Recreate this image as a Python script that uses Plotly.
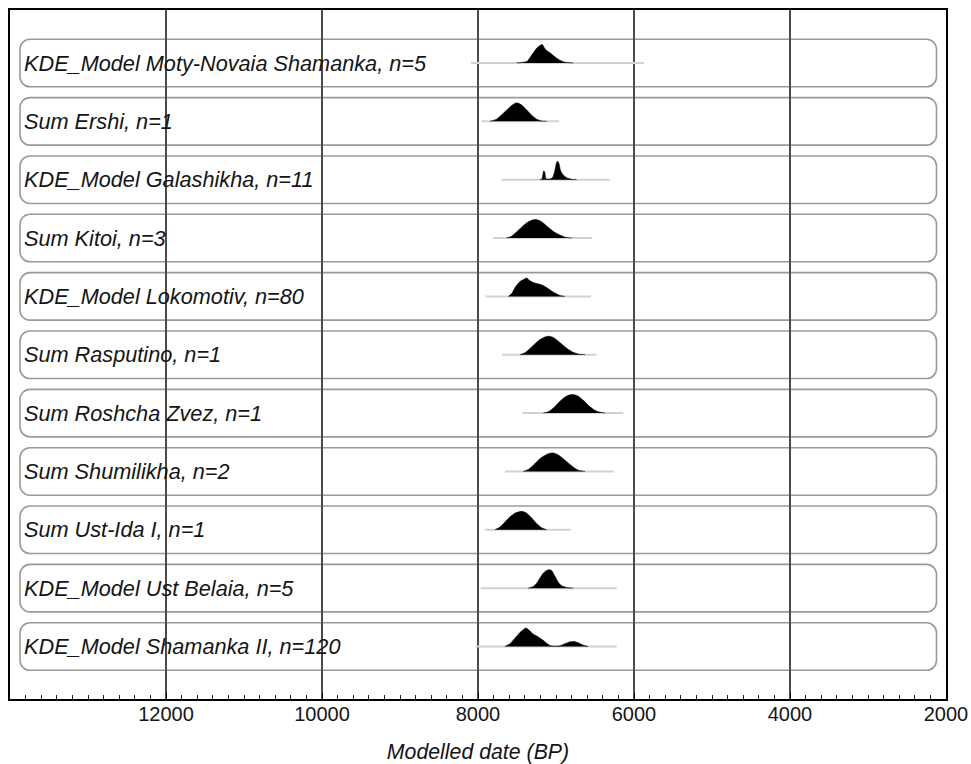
import plotly.graph_objects as go

# ---------------- data ----------------
labels = [
    "KDE_Model Moty-Novaia Shamanka, n=5",
    "Sum Ershi, n=1",
    "KDE_Model Galashikha, n=11",
    "Sum Kitoi, n=3",
    "KDE_Model Lokomotiv, n=80",
    "Sum Rasputino, n=1",
    "Sum Roshcha Zvez, n=1",
    "Sum Shumilikha, n=2",
    "Sum Ust-Ida I, n=1",
    "KDE_Model Ust Belaia, n=5",
    "KDE_Model Shamanka II, n=120",
]

# overall range (light grey line) for each row, years BP
range_start = [8090, 7953, 7697, 7804, 7902, 7692, 7427, 7654, 7910, 7966, 8026]
range_end   = [5872, 6962, 6308, 6534, 6551, 6479, 6137, 6257, 6812, 6222, 6222]

# probability distributions: years BP and relative density (peak = 1)
moty_years = [7504, 7419, 7368, 7333, 7291, 7248, 7205, 7175, 7154, 7128, 7077, 7013, 6949, 6885, 6778]
moty_dens  = [0.0, 0.04, 0.10, 0.30, 0.55, 0.80, 0.95, 1.00, 0.85, 0.70, 0.55, 0.33, 0.15, 0.04, 0.0]

ershi_years = [7846, 7761, 7697, 7632, 7568, 7504, 7440, 7376, 7312, 7248, 7184, 7120]
ershi_dens  = [0.0, 0.12, 0.35, 0.61, 0.86, 1.00, 0.88, 0.61, 0.33, 0.12, 0.02, 0.0]

gala_years = [7205, 7184, 7171, 7158, 7145, 7133, 7120, 7077, 7047, 7026, 7009, 6992, 6979, 6962, 6940, 6906, 6863, 6799, 6735]
gala_dens  = [0.0, 0.02, 0.19, 0.47, 0.42, 0.10, 0.04, 0.04, 0.10, 0.30, 0.60, 0.94, 1.00, 0.88, 0.47, 0.25, 0.10, 0.02, 0.0]

kitoi_years = [7632, 7568, 7504, 7440, 7376, 7312, 7257, 7205, 7141, 7077, 7013, 6949, 6885, 6799]
kitoi_dens  = [0.0, 0.10, 0.34, 0.59, 0.82, 0.96, 1.00, 0.93, 0.73, 0.50, 0.30, 0.16, 0.05, 0.0]

loko_years = [7611, 7568, 7526, 7462, 7410, 7376, 7342, 7291, 7205, 7141, 7077, 7013, 6949, 6885]
loko_dens  = [0.0, 0.15, 0.47, 0.80, 0.93, 1.00, 0.87, 0.75, 0.65, 0.53, 0.35, 0.18, 0.05, 0.0]

rasp_years = [7462, 7398, 7333, 7269, 7205, 7141, 7086, 7034, 6970, 6906, 6842, 6778, 6714, 6628]
rasp_dens  = [0.0, 0.11, 0.34, 0.59, 0.82, 0.96, 1.00, 0.93, 0.73, 0.50, 0.29, 0.13, 0.04, 0.0]

rosh_years = [7162, 7098, 7034, 6970, 6906, 6842, 6778, 6714, 6650, 6585, 6521, 6457, 6372]
rosh_dens  = [0.0, 0.07, 0.27, 0.55, 0.80, 0.96, 1.00, 0.91, 0.69, 0.42, 0.20, 0.07, 0.0]

shum_years = [7419, 7355, 7291, 7227, 7162, 7098, 7034, 6970, 6906, 6842, 6778, 6714, 6628]
shum_dens  = [0.0, 0.11, 0.34, 0.61, 0.82, 0.96, 1.00, 0.89, 0.68, 0.45, 0.23, 0.07, 0.0]

ustida_years = [7782, 7718, 7654, 7590, 7526, 7440, 7376, 7312, 7248, 7184, 7120]
ustida_dens  = [0.0, 0.15, 0.42, 0.70, 0.90, 1.00, 0.90, 0.64, 0.34, 0.11, 0.0]

belaia_years = [7355, 7291, 7248, 7205, 7162, 7120, 7086, 7056, 7013, 6970, 6927, 6863, 6778]
belaia_dens  = [0.0, 0.09, 0.27, 0.55, 0.82, 0.96, 1.00, 0.95, 0.64, 0.31, 0.13, 0.04, 0.0]

sham2_years = [7654, 7590, 7526, 7462, 7419, 7385, 7342, 7291, 7227, 7162, 7120, 7077, 7013, 6949, 6885, 6822, 6765, 6714, 6650, 6586]
sham2_dens  = [0.0, 0.15, 0.45, 0.76, 0.91, 1.00, 0.87, 0.67, 0.51, 0.33, 0.18, 0.05, 0.02, 0.04, 0.15, 0.25, 0.27, 0.20, 0.07, 0.0]

dist_years = [moty_years, ershi_years, gala_years, kitoi_years, loko_years, rasp_years,
              rosh_years, shum_years, ustida_years, belaia_years, sham2_years]
dist_dens = [moty_dens, ershi_dens, gala_dens, kitoi_dens, loko_dens, rasp_dens,
             rosh_dens, shum_dens, ustida_dens, belaia_dens, sham2_dens]

x_ticks = [12000, 10000, 8000, 6000, 4000, 2000]

# ---------------- layout constants ----------------
W, H = 971, 764
ML, MR, MT, MB = 10, 25, 10, 65
plot_w = W - ML - MR
plot_h = H - MT - MB
row_px = 58.35
y_top = -(63.0 - MT) / row_px
y_bot = y_top + plot_h / row_px
peak_h = 18.5 / row_px          # peak height in row units
box_half = 23.75 / row_px       # half height of rounded box
box_x0 = (20 - ML) / plot_w
box_x1 = (936.5 - ML) / plot_w
rx = 10 / plot_w
ry = 10 / row_px
k = 0.55
FONT = "Liberation Sans, Arial, Helvetica, sans-serif"

fig = go.Figure()

shapes = []
for i in range(len(labels)):
    y0 = i - box_half
    y1 = i + box_half
    path = (
        f"M {box_x0 + rx},{y0} L {box_x1 - rx},{y0} "
        f"C {box_x1 - rx * (1 - k)},{y0} {box_x1},{y0 + ry * (1 - k)} {box_x1},{y0 + ry} "
        f"L {box_x1},{y1 - ry} "
        f"C {box_x1},{y1 - ry * (1 - k)} {box_x1 - rx * (1 - k)},{y1} {box_x1 - rx},{y1} "
        f"L {box_x0 + rx},{y1} "
        f"C {box_x0 + rx * (1 - k)},{y1} {box_x0},{y1 - ry * (1 - k)} {box_x0},{y1 - ry} "
        f"L {box_x0},{y0 + ry} "
        f"C {box_x0},{y0 + ry * (1 - k)} {box_x0 + rx * (1 - k)},{y0} {box_x0 + rx},{y0} Z"
    )
    shapes.append(dict(type="path", path=path, xref="paper", yref="y",
                       line=dict(color="#9a9a9a", width=1.6), fillcolor="rgba(0,0,0,0)",
                       layer="below"))

for i in range(len(labels)):
    # range line
    fig.add_trace(go.Scatter(
        x=[range_start[i], range_end[i]], y=[i, i], mode="lines",
        line=dict(color="#d2d2d2", width=2), hoverinfo="skip", showlegend=False))
    # distribution
    ys = [i - d * peak_h for d in dist_dens[i]]
    fig.add_trace(go.Scatter(
        x=dist_years[i], y=ys, mode="lines", fill="toself",
        fillcolor="black", line=dict(color="black", width=0.6, shape="spline", smoothing=0.6),
        hoverinfo="skip", showlegend=False))

annotations = []
for i, lab in enumerate(labels):
    annotations.append(dict(
        x=(22 - ML) / plot_w, y=i, xref="paper", yref="y", text=lab,
        showarrow=False, xanchor="left", yanchor="middle",
        font=dict(family=FONT, size=21.7, color="#151515", style="italic")))

fig.update_layout(
    width=W, height=H,
    margin=dict(l=ML, r=MR, t=MT, b=MB, autoexpand=False),
    paper_bgcolor="white", plot_bgcolor="white",
    shapes=shapes, annotations=annotations,
    showlegend=False,
    xaxis=dict(
        range=[14000, 2000], tickvals=x_ticks, ticktext=[str(v) for v in x_ticks],
        showgrid=True, gridcolor="#4a4a4a", gridwidth=1.5,
        ticks="inside", ticklen=6, tickcolor="black", tickwidth=1.3,
        minor=dict(dtick=200, ticks="inside", ticklen=4, tickcolor="#222222",
                   tickwidth=1, showgrid=False),
        showline=True, linecolor="black", linewidth=2, mirror=True,
        zeroline=False, automargin=False, ticklabelstandoff=-4,
        tickfont=dict(family=FONT, size=20, color="#151515"),
        title=dict(text="Modelled date (BP)", standoff=20,
                   font=dict(family=FONT, size=21.3, color="#151515", style="italic")),
        fixedrange=True,
    ),
    yaxis=dict(
        range=[y_bot, y_top], showgrid=False, zeroline=False, showticklabels=False,
        ticks="", showline=True, linecolor="black", linewidth=2, mirror=True,
        automargin=False, fixedrange=True,
    ),
)

fig.write_html("out.html")
